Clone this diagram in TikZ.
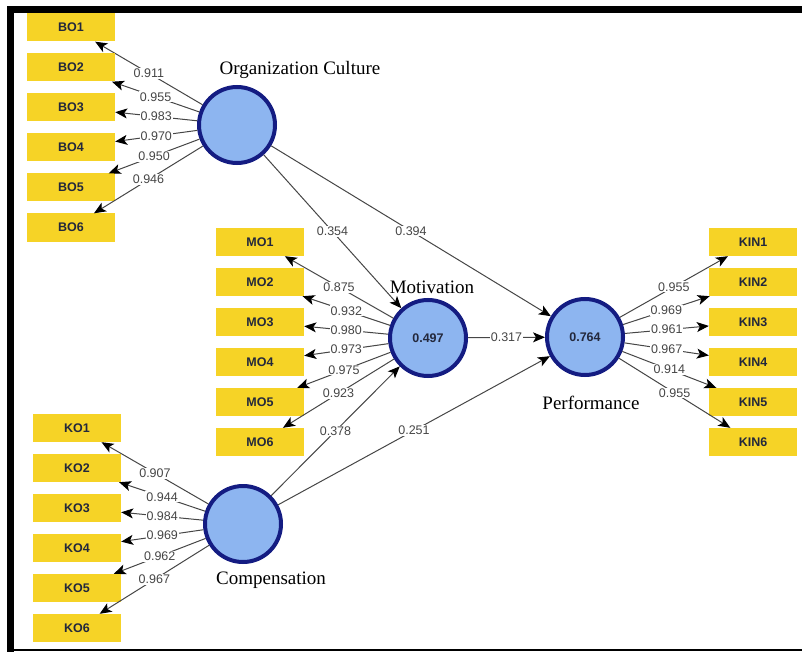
\documentclass[tikz,border=0pt]{standalone}
\usepackage{fontspec}
\setmainfont{Liberation Serif}
\setsansfont{Liberation Sans}
\usetikzlibrary{arrows.meta}
\definecolor{boxyellow}{RGB}{246,211,38}
\definecolor{lvblue}{RGB}{141,181,240}
\definecolor{lvnavy}{RGB}{20,28,130}
\definecolor{pathgray}{RGB}{70,70,70}
\definecolor{boxtext}{RGB}{35,40,60}
\tikzset{
  indicator/.style={fill=boxyellow, minimum width=88pt, minimum height=28pt, inner sep=0pt,
    font=\sffamily\bfseries\fontsize{12.5}{13}\selectfont, text=boxtext},
  latent/.style={circle, draw=lvnavy, line width=4pt, fill=lvblue, minimum size=76pt, inner sep=0pt,
    font=\sffamily\bfseries\fontsize{12.5}{13}\selectfont, text=boxtext},
  lvname/.style={font=\fontsize{19}{20}\selectfont},
  coef/.style={fill=white, inner sep=1pt, font=\sffamily\fontsize{12.5}{13}\selectfont, text=pathgray},
  link/.style={draw=pathgray, line width=1pt, -{Stealth[length=12pt, width=10pt, inset=3pt, color=black]}}
}

\begin{document}
\begin{tikzpicture}[x=1pt, y=-1pt]
    \useasboundingbox (0,0) rectangle (802,652);
    % Frame
    \fill[black] (7,6) rectangle (802,13);
    \fill[black] (7,6) rectangle (14,652);
    \draw[line width=1.5pt] (7,650) -- (802,650);

    % Latent variables
    \node[latent] (oc) at (237,125) {};
    \node[latent] (mot) at (428,338) {0.497};
    \node[latent] (perf) at (585,337) {0.764};
    \node[latent] (comp) at (243,524) {};
    \node[lvname] (ocname) at (300,70) {Organization Culture};
    \node[lvname] (motname) at (432,287) {Motivation};
    \node[lvname] (perfname) at (591,403) {Performance};
    \node[lvname] (compname) at (271,580) {Compensation};

    % Organization Culture indicators
    \foreach \v [count=\i] in {0.911,0.955,0.983,0.970,0.950,0.946} {
        \node[indicator] (bo\i) at (71,{27.5+40*(\i-1)}) {BO\i};
        \draw[link] (oc) -- node[coef] {\v} (bo\i);
    }
    % Motivation indicators
    \foreach \v [count=\i] in {0.875,0.932,0.980,0.973,0.975,0.923} {
        \node[indicator] (mo\i) at (260,{242+40*(\i-1)}) {MO\i};
        \draw[link] (mot) -- node[coef] {\v} (mo\i);
    }
    % Performance indicators
    \foreach \v [count=\i] in {0.955,0.969,0.961,0.967,0.914,0.955} {
        \node[indicator] (kin\i) at (753,{242+40*(\i-1)}) {KIN\i};
        \draw[link] (perf) -- node[coef] {\v} (kin\i);
    }
    % Compensation indicators
    \foreach \v [count=\i] in {0.907,0.944,0.984,0.969,0.962,0.967} {
        \node[indicator] (ko\i) at (77,{428+40*(\i-1)}) {KO\i};
        \draw[link] (comp) -- node[coef] {\v} (ko\i);
    }

    % Structural paths
    \draw[link] (oc) -- node[coef] {0.354} (mot);
    \draw[link] (oc) -- node[coef] {0.394} (perf);
    \draw[link] (mot) -- node[coef] {0.317} (perf);
    \draw[link] (comp) -- node[coef] {0.378} (mot);
    \draw[link] (comp) -- node[coef] {0.251} (perf);
\end{tikzpicture}
\end{document}
